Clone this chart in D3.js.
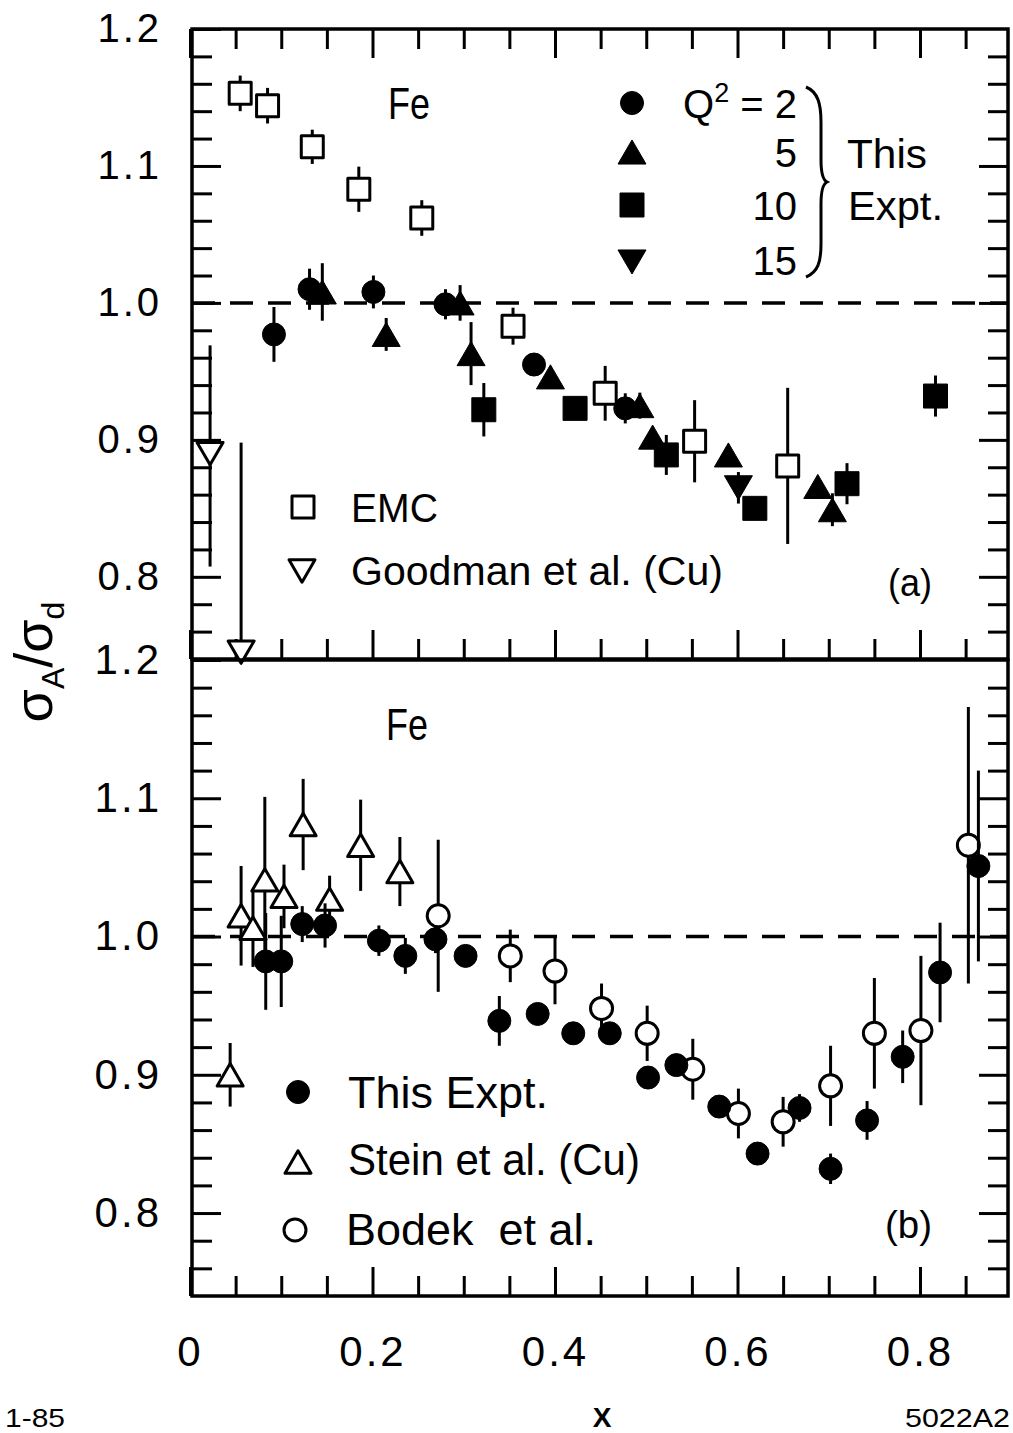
<!DOCTYPE html>
<html>
<head>
<meta charset="utf-8">
<script src="https://cdn.jsdelivr.net/npm/d3@7"></script>
<style>
  body { margin: 0; background: #fff; }
  svg text { font-family: "Liberation Sans", Arial, sans-serif; fill: #000; }
</style>
</head>
<body>
<script>
// ---- data ----

// panel (a): EMC, Goodman et al. (Cu), this experiment at Q2 = 2, 5, 10, 15
var emc = [
  {x: 0.055, y: 1.153, e: 0.013},
  {x: 0.085, y: 1.144, e: 0.013},
  {x: 0.134, y: 1.114, e: 0.0125},
  {x: 0.185, y: 1.083, e: 0.0165},
  {x: 0.254, y: 1.062, e: 0.013},
  {x: 0.354, y: 0.983, e: 0.0135},
  {x: 0.455, y: 0.934, e: 0.020},
  {x: 0.553, y: 0.899, e: 0.030},
  {x: 0.655, y: 0.881, e: 0.057}
];
var goodman = [
  {x: 0.022, y: 0.890, lo: 0.0825, hi: 0.079},
  {x: 0.056, y: 0.745, lo: 0, hi: 0.153}
];
var q2_2 = [
  {x: 0.092, y: 0.977, e: 0.020},
  {x: 0.131, y: 1.010, e: 0.015},
  {x: 0.201, y: 1.008, e: 0.012},
  {x: 0.280, y: 0.999, e: 0.011},
  {x: 0.377, y: 0.955, e: 0.006},
  {x: 0.477, y: 0.923, e: 0.011}
];
var q2_5 = [
  {x: 0.145, y: 1.008, e: 0.021},
  {x: 0.215, y: 0.977, e: 0.012},
  {x: 0.296, y: 1.000, e: 0.013},
  {x: 0.308, y: 0.963, e: 0.023},
  {x: 0.395, y: 0.946, e: 0.007},
  {x: 0.493, y: 0.925, e: 0.0095},
  {x: 0.507, y: 0.902, e: 0.006},
  {x: 0.590, y: 0.889, e: 0},
  {x: 0.688, y: 0.866, e: 0},
  {x: 0.704, y: 0.849, e: 0.012}
];
var q2_10 = [
  {x: 0.322, y: 0.922, e: 0.0195},
  {x: 0.422, y: 0.923, e: 0.005},
  {x: 0.522, y: 0.889, e: 0.0146},
  {x: 0.619, y: 0.850, e: 0},
  {x: 0.720, y: 0.868, e: 0.015},
  {x: 0.817, y: 0.932, e: 0.015}
];
var q2_15 = [
  {x: 0.601, y: 0.865, e: 0.0115}
];

// panel (b): this experiment, Stein et al. (Cu), Bodek et al.
var thisExpt = [
  {x: 0.083, y: 0.982, e: 0.035},
  {x: 0.100, y: 0.982, e: 0.033},
  {x: 0.123, y: 1.009, e: 0.013},
  {x: 0.148, y: 1.008, e: 0.016},
  {x: 0.207, y: 0.997, e: 0.011},
  {x: 0.236, y: 0.986, e: 0.013},
  {x: 0.269, y: 0.998, e: 0.010},
  {x: 0.302, y: 0.986, e: 0},
  {x: 0.339, y: 0.939, e: 0.018},
  {x: 0.381, y: 0.944, e: 0},
  {x: 0.420, y: 0.930, e: 0},
  {x: 0.460, y: 0.930, e: 0.007},
  {x: 0.502, y: 0.898, e: 0},
  {x: 0.533, y: 0.907, e: 0.005},
  {x: 0.580, y: 0.877, e: 0},
  {x: 0.622, y: 0.843, e: 0},
  {x: 0.668, y: 0.876, e: 0.010},
  {x: 0.702, y: 0.832, e: 0.011},
  {x: 0.742, y: 0.867, e: 0.014},
  {x: 0.781, y: 0.913, e: 0.019},
  {x: 0.822, y: 0.974, e: 0.036},
  {x: 0.864, y: 1.051, e: 0.069}
];
var stein = [
  {x: 0.044, y: 0.900, e: 0.023},
  {x: 0.056, y: 1.015, e: 0.036},
  {x: 0.069, y: 1.006, e: 0.028},
  {x: 0.082, y: 1.041, e: 0.060},
  {x: 0.103, y: 1.029, e: 0.023},
  {x: 0.124, y: 1.081, e: 0.033},
  {x: 0.153, y: 1.027, e: 0.017},
  {x: 0.187, y: 1.066, e: 0.033},
  {x: 0.230, y: 1.047, e: 0.025}
];
var bodek = [
  {x: 0.272, y: 1.015, e: 0.055},
  {x: 0.351, y: 0.986, e: 0.019},
  {x: 0.400, y: 0.975, e: 0.024},
  {x: 0.451, y: 0.948, e: 0.018},
  {x: 0.501, y: 0.930, e: 0.020},
  {x: 0.551, y: 0.904, e: 0.022},
  {x: 0.601, y: 0.872, e: 0.018},
  {x: 0.650, y: 0.866, e: 0.018},
  {x: 0.702, y: 0.892, e: 0.029},
  {x: 0.750, y: 0.930, e: 0.040},
  {x: 0.801, y: 0.932, e: 0.054},
  {x: 0.853, y: 1.066, e: 0.100}
];

// ticks
var xMajorTicks = [0, 0.2, 0.4, 0.6, 0.8];
var xTickLabels = ["0", "0.2", "0.4", "0.6", "0.8"];
var xMinorTicks = [0.05, 0.1, 0.15, 0.25, 0.3, 0.35, 0.45, 0.5, 0.55, 0.65, 0.7, 0.75, 0.85];
var yMajorTicks = [0.8, 0.9, 1.0, 1.1, 1.2];
var yTickLabels = ["0.8", "0.9", "1.0", "1.1", "1.2"];
var yMinorTicks = [0.76, 0.78, 0.82, 0.84, 0.86, 0.88, 0.92, 0.94, 0.96, 0.98,
                   1.02, 1.04, 1.06, 1.08, 1.12, 1.14, 1.16, 1.18];


// ---- svg and scales ----

var W = 1013, H = 1433;
var left = 192, right = 1008;

var svg = d3.select("body").append("svg")
    .attr("width", W)
    .attr("height", H);

var x = d3.scaleLinear().domain([0, 0.9]).range([190, 190 + 0.9 * 912.5]);
var yA = d3.scaleLinear().domain([0.74, 1.2]).range([659, 29]);
var yB = d3.scaleLinear().domain([0.74, 1.2]).range([1296, 660]);


// ---- marker shapes ----

var triUp = {
  draw: function(ctx, size) {
    var w = Math.sqrt(size), h = w * 0.86;
    ctx.moveTo(0, -h / 2);
    ctx.lineTo(w / 2, h / 2);
    ctx.lineTo(-w / 2, h / 2);
    ctx.closePath();
  }
};
var triDown = {
  draw: function(ctx, size) {
    var w = Math.sqrt(size), h = w * 0.86;
    ctx.moveTo(0, h / 2);
    ctx.lineTo(w / 2, -h / 2);
    ctx.lineTo(-w / 2, -h / 2);
    ctx.closePath();
  }
};

var shapes = {
  dot:     {type: d3.symbolCircle, size: Math.PI * 11.5 * 11.5, open: false},
  ring:    {type: d3.symbolCircle, size: Math.PI * 11 * 11, open: true},
  tri:     {type: triUp, size: 28 * 28, open: false},
  otri:    {type: triUp, size: 26 * 26, open: true},
  dtri:    {type: triDown, size: 28 * 28, open: false},
  odtri:   {type: triDown, size: 26 * 26, open: true},
  sq:      {type: d3.symbolSquare, size: 24 * 24, open: false},
  osq:     {type: d3.symbolSquare, size: 22 * 22, open: true}
};

function marker(g, shape, px, py) {
  var s = shapes[shape];
  g.append("path")
    .attr("d", d3.symbol().type(s.type).size(s.size)())
    .attr("transform", "translate(" + px + "," + py + ")")
    .attr("fill", s.open ? "#fff" : "#000")
    .attr("stroke", "#000")
    .attr("stroke-width", s.open ? 3 : 1)
    .attr("stroke-linejoin", "round");
}

function series(g, data, y, shape) {
  g.selectAll(null)
    .data(data.filter(function(d) { return (d.e || d.lo || d.hi); }))
    .enter().append("line")
    .attr("x1", function(d) { return x(d.x); })
    .attr("x2", function(d) { return x(d.x); })
    .attr("y1", function(d) { return y(d.y + (d.hi !== undefined ? d.hi : d.e)); })
    .attr("y2", function(d) { return y(d.y - (d.lo !== undefined ? d.lo : d.e)); })
    .attr("stroke", "#000")
    .attr("stroke-width", 3);

  data.forEach(function(d) { marker(g, shape, x(d.x), y(d.y)); });
}


// ---- frames, ticks, dashed line at 1 ----

function panel(y, top, bottom, withTop, withXLabels) {
  var g = svg.append("g");

  // y ticks, left and right, pointing inward
  g.append("g").attr("transform", "translate(" + left + ",0)")
    .call(d3.axisLeft(y).tickValues(yMinorTicks).tickSize(-20).tickFormat(""));
  g.append("g").attr("transform", "translate(" + left + ",0)")
    .call(d3.axisLeft(y).tickValues(yMajorTicks).tickSize(-29).tickPadding(30)
      .tickFormat(function(d, i) { return yTickLabels[i]; }));
  g.append("g").attr("transform", "translate(" + right + ",0)")
    .call(d3.axisRight(y).tickValues(yMinorTicks).tickSize(-20).tickFormat(""));
  g.append("g").attr("transform", "translate(" + right + ",0)")
    .call(d3.axisRight(y).tickValues(yMajorTicks.slice(0, 4)).tickSize(-29).tickFormat(""));

  // x ticks
  g.append("g").attr("transform", "translate(0," + bottom + ")")
    .call(d3.axisBottom(x).tickValues(xMinorTicks).tickSize(-20).tickFormat(""));
  g.append("g").attr("transform", "translate(0," + bottom + ")")
    .call(d3.axisBottom(x).tickValues(xMajorTicks).tickSize(-29).tickPadding(40)
      .tickFormat(function(d, i) { return withXLabels ? xTickLabels[i] : ""; }));
  if (withTop) {
    g.append("g").attr("transform", "translate(0," + top + ")")
      .call(d3.axisTop(x).tickValues(xMinorTicks).tickSize(-20).tickFormat(""));
    g.append("g").attr("transform", "translate(0," + top + ")")
      .call(d3.axisTop(x).tickValues(xMajorTicks).tickSize(-29).tickFormat(""));
  }

  g.selectAll(".domain").remove();
  g.selectAll(".tick line").attr("stroke", "#000").attr("stroke-width", 3);
  g.selectAll(".tick text")
    .style("font-size", "40px")
    .style("letter-spacing", "3px")
    .attr("fill", "#000");

  // frame
  g.append("rect")
    .attr("x", left).attr("y", top)
    .attr("width", right - left).attr("height", bottom - top)
    .attr("fill", "none")
    .attr("stroke", "#000")
    .attr("stroke-width", 3.5);

  // dashed line at ratio 1
  g.append("line")
    .attr("x1", left).attr("x2", right)
    .attr("y1", y(1)).attr("y2", y(1))
    .attr("stroke", "#000")
    .attr("stroke-width", 3.5)
    .attr("stroke-dasharray", "23,15");

  return g;
}

var gA = panel(yA, 29, 659, true, false);
var gB = panel(yB, 660, 1296, false, true);

gB.selectAll(".tick text").style("font-size", "42px");


// ---- data marks ----

series(gA, goodman, yA, "odtri");
series(gA, emc, yA, "osq");
series(gA, q2_2, yA, "dot");
series(gA, q2_5, yA, "tri");
series(gA, q2_10, yA, "sq");
series(gA, q2_15, yA, "dtri");

series(gB, stein, yB, "otri");
series(gB, bodek, yB, "ring");
series(gB, thisExpt, yB, "dot");


// ---- texts and legends ----

function label(txt, px, py, size, anchor, len) {
  var t = svg.append("text")
    .attr("x", px).attr("y", py)
    .attr("text-anchor", anchor || "start")
    .style("font-size", size + "px")
    .text(txt);
  if (len) t.attr("textLength", len).attr("lengthAdjust", "spacingAndGlyphs");
  return t;
}

// panel (a)
label("Fe", 388, 119, 44, "start", 42);
marker(svg, "dot", 632, 103);
marker(svg, "tri", 632, 152);
marker(svg, "sq", 632, 205);
marker(svg, "dtri", 632, 262);

var q = svg.append("text")
  .attr("x", 797).attr("y", 118)
  .attr("text-anchor", "end")
  .style("font-size", "40px");
q.append("tspan").text("Q");
q.append("tspan").attr("dy", -16).style("font-size", "27px").text("2");
q.append("tspan").attr("dy", 16).text(" = 2");
label("5", 797, 167, 40, "end");
label("10", 797, 220, 40, "end");
label("15", 797, 275, 40, "end");

svg.append("path")
  .attr("d", "M806,87 C818,92 821,104 821,122 L821,160 C821,174 823,180 827,182 " +
             "C823,184 821,190 821,204 L821,244 C821,262 818,272 806,277")
  .attr("fill", "none")
  .attr("stroke", "#000")
  .attr("stroke-width", 3);
label("This", 847, 168, 40, "start", 80);
label("Expt.", 848, 220, 40, "start", 95);

marker(svg, "osq", 303, 507);
label("EMC", 351, 522, 40, "start", 87);
marker(svg, "odtri", 302, 571);
label("Goodman et al. (Cu)", 351, 585, 40, "start", 372);
label("(a)", 888, 596, 38, "start", 44);

// panel (b)
label("Fe", 386, 740, 44, "start", 42);
marker(svg, "dot", 298, 1092);
label("This Expt.", 348, 1108, 45, "start", 200);
marker(svg, "otri", 298, 1162);
label("Stein et al. (Cu)", 348, 1175, 45, "start", 292);
marker(svg, "ring", 295, 1230);
label("Bodek\u00a0\u00a0et al.", 346, 1245, 45, "start", 250);
label("(b)", 885, 1238, 38, "start", 47);

// y title
var yt = svg.append("text")
  .attr("transform", "translate(52,662) rotate(-90)")
  .attr("text-anchor", "middle")
  .style("font-size", "54px");
yt.append("tspan").text("σ");
yt.append("tspan").attr("dy", 12).style("font-size", "32px").text("A");
yt.append("tspan").attr("dy", -12).text("/σ");
yt.append("tspan").attr("dy", 12).style("font-size", "32px").text("d");

// footer
label("1-85", 5, 1427, 26, "start", 60);
label("X", 602, 1427, 28, "middle").style("font-weight", "bold");
label("5022A2", 905, 1427, 26, "start", 105);
</script>
</body>
</html>
